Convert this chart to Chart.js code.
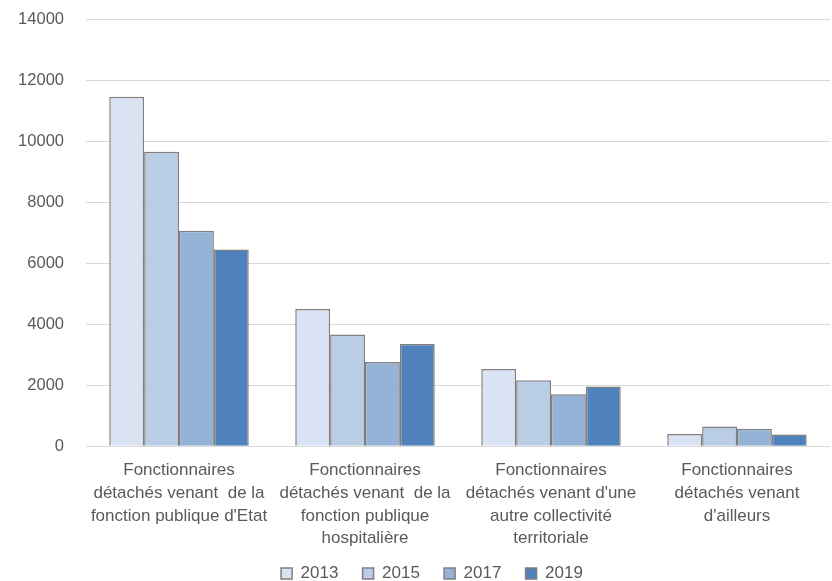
<!DOCTYPE html>
<html>
<head>
<meta charset="utf-8">
<script src="https://cdn.jsdelivr.net/npm/chart.js@4"></script>
<style>
  html, body { margin: 0; padding: 0; background: #fff; }
  #wrap { width: 832px; height: 581px; }
</style>
</head>
<body>
<div id="wrap"><canvas id="c"></canvas></div>
<script>
// categories (multi-line labels as in the source)
const categories = [
  ["Fonctionnaires", "détachés venant  de la", "fonction publique d'Etat"],
  ["Fonctionnaires", "détachés venant  de la", "fonction publique", "hospitalière"],
  ["Fonctionnaires", "détachés venant d'une", "autre collectivité", "territoriale"],
  ["Fonctionnaires", "détachés venant", "d'ailleurs"]
];
const years = ["2013", "2015", "2017", "2019"];
const v2013 = [11450, 4500, 2530, 400];
const v2015 = [9650, 3660, 2160, 650];
const v2017 = [7060, 2760, 1700, 575];
const v2019 = [6450, 3350, 1960, 380];
const colors = ["#dae3f3", "#b9cde5", "#95b3d7", "#4f81bd"];

const series = [v2013, v2015, v2017, v2019];
const font = "'Liberation Sans', Arial, sans-serif";
const gap = "\u00a0\u00a0\u00a0";

// legend is centred under the plot area, not the whole canvas
const legendShift = {
  id: "legendShift",
  afterLayout(chart) { chart.legend.left += 34; }
};

new Chart(document.getElementById("c"), {
  type: "bar",
  data: {
    labels: categories,
    datasets: years.map((y, i) => ({
      label: y,
      data: series[i],
      backgroundColor: colors[i],
      borderColor: "#7f7f7f",
      borderWidth: 1.5,
      borderSkipped: "bottom",
      categoryPercentage: 0.75,
      barPercentage: 1
    }))
  },
  options: {
    responsive: true,
    maintainAspectRatio: false,
    animation: false,
    layout: { padding: { top: 0, right: 2, left: 0, bottom: -11 } },
    plugins: {
      tooltip: { enabled: false },
      legend: {
        position: "bottom",
        labels: {
          boxWidth: 11,
          boxHeight: 11,
          padding: 10,
          color: "#595959",
          font: { family: font, size: 17 },
          generateLabels(chart) {
            const items = Chart.defaults.plugins.legend.labels.generateLabels(chart);
            items.forEach((it, i) => { if (i < items.length - 1) it.text += gap; });
            return items;
          }
        }
      }
    },
    scales: {
      x: {
        grid: { display: false },
        border: { display: false },
        ticks: {
          color: "#595959",
          font: { family: font, size: 17, lineHeight: 1.335 },
          maxRotation: 0,
          autoSkip: false,
          padding: 5
        }
      },
      y: {
        min: 0,
        max: 14000,
        border: { display: false },
        grid: { color: "#d9d9d9", lineWidth: 1, drawTicks: false },
        afterFit(scale) { scale.width = 86; scale.paddingTop = 19; },
        ticks: {
          stepSize: 2000,
          color: "#595959",
          padding: 22,
          font: { family: font, size: 16.5 },
          callback: v => String(v)
        }
      }
    }
  },
  plugins: [legendShift]
});
</script>
</body>
</html>
